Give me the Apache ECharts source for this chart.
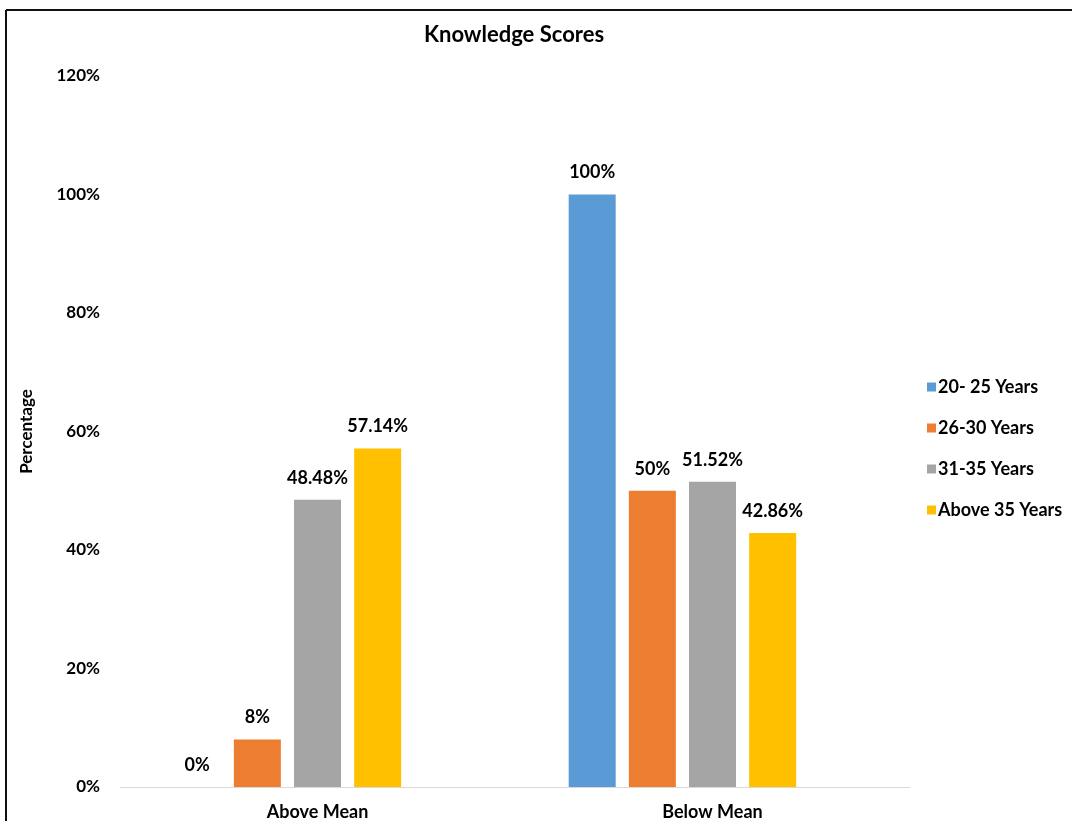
<!DOCTYPE html>
<html>
<head>
<meta charset="utf-8">
<script src="https://cdn.jsdelivr.net/npm/echarts@6/dist/echarts.min.js"></script>
<style>
html,body{margin:0;padding:0;background:#fff;}
#chart{width:1072px;height:821px;}
</style>
</head>
<body>
<div id="chart"></div>
<script>
const categories = ['Above Mean', 'Below Mean'];
const seriesNames = ['20- 25 Years', '26-30 Years', '31-35 Years', 'Above 35 Years'];
const s20_25 = [0, 100];
const s26_30 = [8, 50];
const s31_35 = [48.48, 51.52];
const sAbove35 = [57.14, 42.86];
const labelText = [
  ['0%', '100%'],
  ['8%', '50%'],
  ['48.48%', '51.52%'],
  ['57.14%', '42.86%']
];
const colors = ['#5B9BD5', '#ED7D31', '#A5A5A5', '#FFC000'];

const FONT = 'Lato';
const values = [s20_25, s26_30, s31_35, sAbove35];

const series = values.map((vals, i) => ({
  name: seriesNames[i],
  type: 'bar',
  data: vals,
  barWidth: 47,
  barGap: '28%',
  barCategoryGap: '27%',
  itemStyle: { color: colors[i] },
  label: {
    show: true,
    position: 'top',
    distance: 13,
    formatter: p => labelText[i][p.dataIndex],
    fontFamily: FONT,
    fontWeight: 'bold',
    fontSize: 18,
    color: '#000'
  }
}));
// empty fifth slot (the original chart reserves space for an empty series)
series.push({ name: '', type: 'bar', data: [null, null], barWidth: 47, barGap: '28%', silent: true });

const chart = echarts.init(document.getElementById('chart'));
chart.setOption({
  animation: false,
  backgroundColor: '#fff',
  title: {
    text: 'Knowledge Scores',
    left: 509,
    top: 19,
    textAlign: 'center',
    textStyle: { fontFamily: FONT, fontWeight: 'bold', fontSize: 22, color: '#000' }
  },
  graphic: [
    { type: 'line', shape: { x1: 6, y1: 10, x2: 1072, y2: 10 }, style: { stroke: '#111', lineWidth: 2 } },
    { type: 'line', shape: { x1: 6, y1: 10, x2: 6, y2: 821 }, style: { stroke: '#111', lineWidth: 2 } }
  ],
  legend: {
    data: seriesNames,
    orient: 'vertical',
    left: 922,
    top: 373,
    icon: 'rect',
    itemWidth: 9,
    itemHeight: 9,
    itemGap: 23,
    textStyle: { fontFamily: FONT, fontWeight: 'bold', fontSize: 18, color: '#000', padding: [0, 0, 0, -3] }
  },
  grid: { left: 120, right: 162, top: 76, bottom: 34 },
  xAxis: {
    type: 'category',
    data: categories,
    axisLine: { lineStyle: { color: '#d9d9d9', width: 1 } },
    axisTick: { show: false },
    axisLabel: { margin: 16, fontFamily: FONT, fontWeight: 'bold', fontSize: 18, color: '#000' }
  },
  yAxis: {
    type: 'value',
    min: 0,
    max: 120,
    interval: 20,
    name: 'Percentage',
    nameLocation: 'middle',
    nameGap: 85,
    nameRotate: 90,
    nameTextStyle: { fontFamily: FONT, fontWeight: 'bold', fontSize: 17, color: '#000' },
    axisLine: { show: false },
    axisTick: { show: false },
    splitLine: { show: false },
    axisLabel: { margin: 20, formatter: '{value}%', fontFamily: FONT, fontWeight: 'bold', fontSize: 17, color: '#000' }
  },
  series: series
});
</script>
</body>
</html>
